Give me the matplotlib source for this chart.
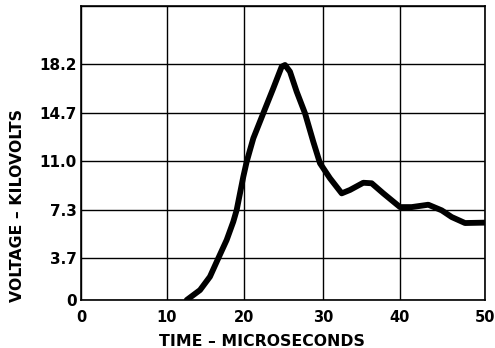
import numpy as np
import matplotlib
matplotlib.use("Agg")
import matplotlib.pyplot as plt

# Data (time in microseconds, voltage in kilovolts)
time_us = [12.56, 14.29, 15.58, 16.66, 17.75, 18.61, 19.05, 19.48, 19.91, 20.34,
           20.76, 21.18, 22.44, 23.71, 24.77, 25.19, 25.82, 26.67, 27.72, 28.77,
           29.62, 30.91, 32.43, 33.51, 35.23, 36.32, 37.83, 40.0, 41.38, 43.33,
           44.91, 46.08, 47.65, 50.0]
voltage_kv = [0.0, 0.87, 2.04, 3.65, 5.03, 6.4, 7.28, 8.55, 9.82, 10.97,
              11.87, 12.76, 14.68, 16.48, 18.03, 18.15, 17.67, 16.23, 14.68, 12.5,
              10.85, 9.7, 8.55, 8.81, 9.36, 9.32, 8.55, 7.5, 7.5, 7.68,
              7.25, 6.75, 6.3, 6.33]

x_ticks = [0, 10, 20, 30, 40, 50]
x_tick_labels = ["0", "10", "20", "30", "40", "50"]
y_ticks = [0, 3.7, 7.3, 11.0, 14.7, 18.2]
y_tick_labels = ["0", "3.7", "7.3", "11.0", "14.7", "18.2"]
y_top = 21.8

# Hand-drawn grid spacing of the original (layout, in pixels)
x_grid_px = [0, 86, 163, 242, 319, 404]
y_grid_px = [0, 42.3, 90.3, 138.7, 187, 235.7, 294]
y_grid_vals = y_ticks + [y_top]

def xf(v):
    return np.interp(v, x_ticks, x_grid_px)
def xi(u):
    return np.interp(u, x_grid_px, x_ticks)
def yf(v):
    return np.interp(v, y_grid_vals, y_grid_px)
def yi(u):
    return np.interp(u, y_grid_px, y_grid_vals)

plt.rcParams['font.family'] = ['DejaVu Sans']
fig = plt.figure(figsize=(4.95, 3.48), dpi=100)
ax = fig.add_axes([81/495, 48/348, 404/495, 294/348])
ax.set_xscale('function', functions=(xf, xi))
ax.set_yscale('function', functions=(yf, yi))
ax.set_xlim(0, 50)
ax.set_ylim(0, y_top)

ax.plot(time_us, voltage_kv, color='black', lw=4.2, solid_capstyle='round',
        solid_joinstyle='round', zorder=3)

ax.set_xticks(x_ticks)
ax.set_xticklabels(x_tick_labels)
ax.set_yticks(y_ticks)
ax.set_yticklabels(y_tick_labels)
ax.set_yticks([y_top], minor=True)
ax.tick_params(which='both', length=0)
ax.tick_params(axis='x', pad=7, labelsize=10.5)
ax.tick_params(axis='y', pad=3, labelsize=11)
for lab in ax.get_xticklabels() + ax.get_yticklabels():
    lab.set_fontweight('bold')
ax.grid(True, which='both', color='black', lw=1.0)
for s in ax.spines.values():
    s.set_linewidth(1.2)
    s.set_color('black')

fig.text(262/495, 1 - 341/348, "TIME \u2013 MICROSECONDS", ha='center', va='center',
         fontsize=11.3, fontweight='bold')
fig.text(18/495, 1 - 205/348, "VOLTAGE \u2013 KILOVOLTS", ha='center', va='center',
         rotation=90, fontsize=11.3, fontweight='bold')

fig.savefig("out.png", dpi=100, facecolor='white')
